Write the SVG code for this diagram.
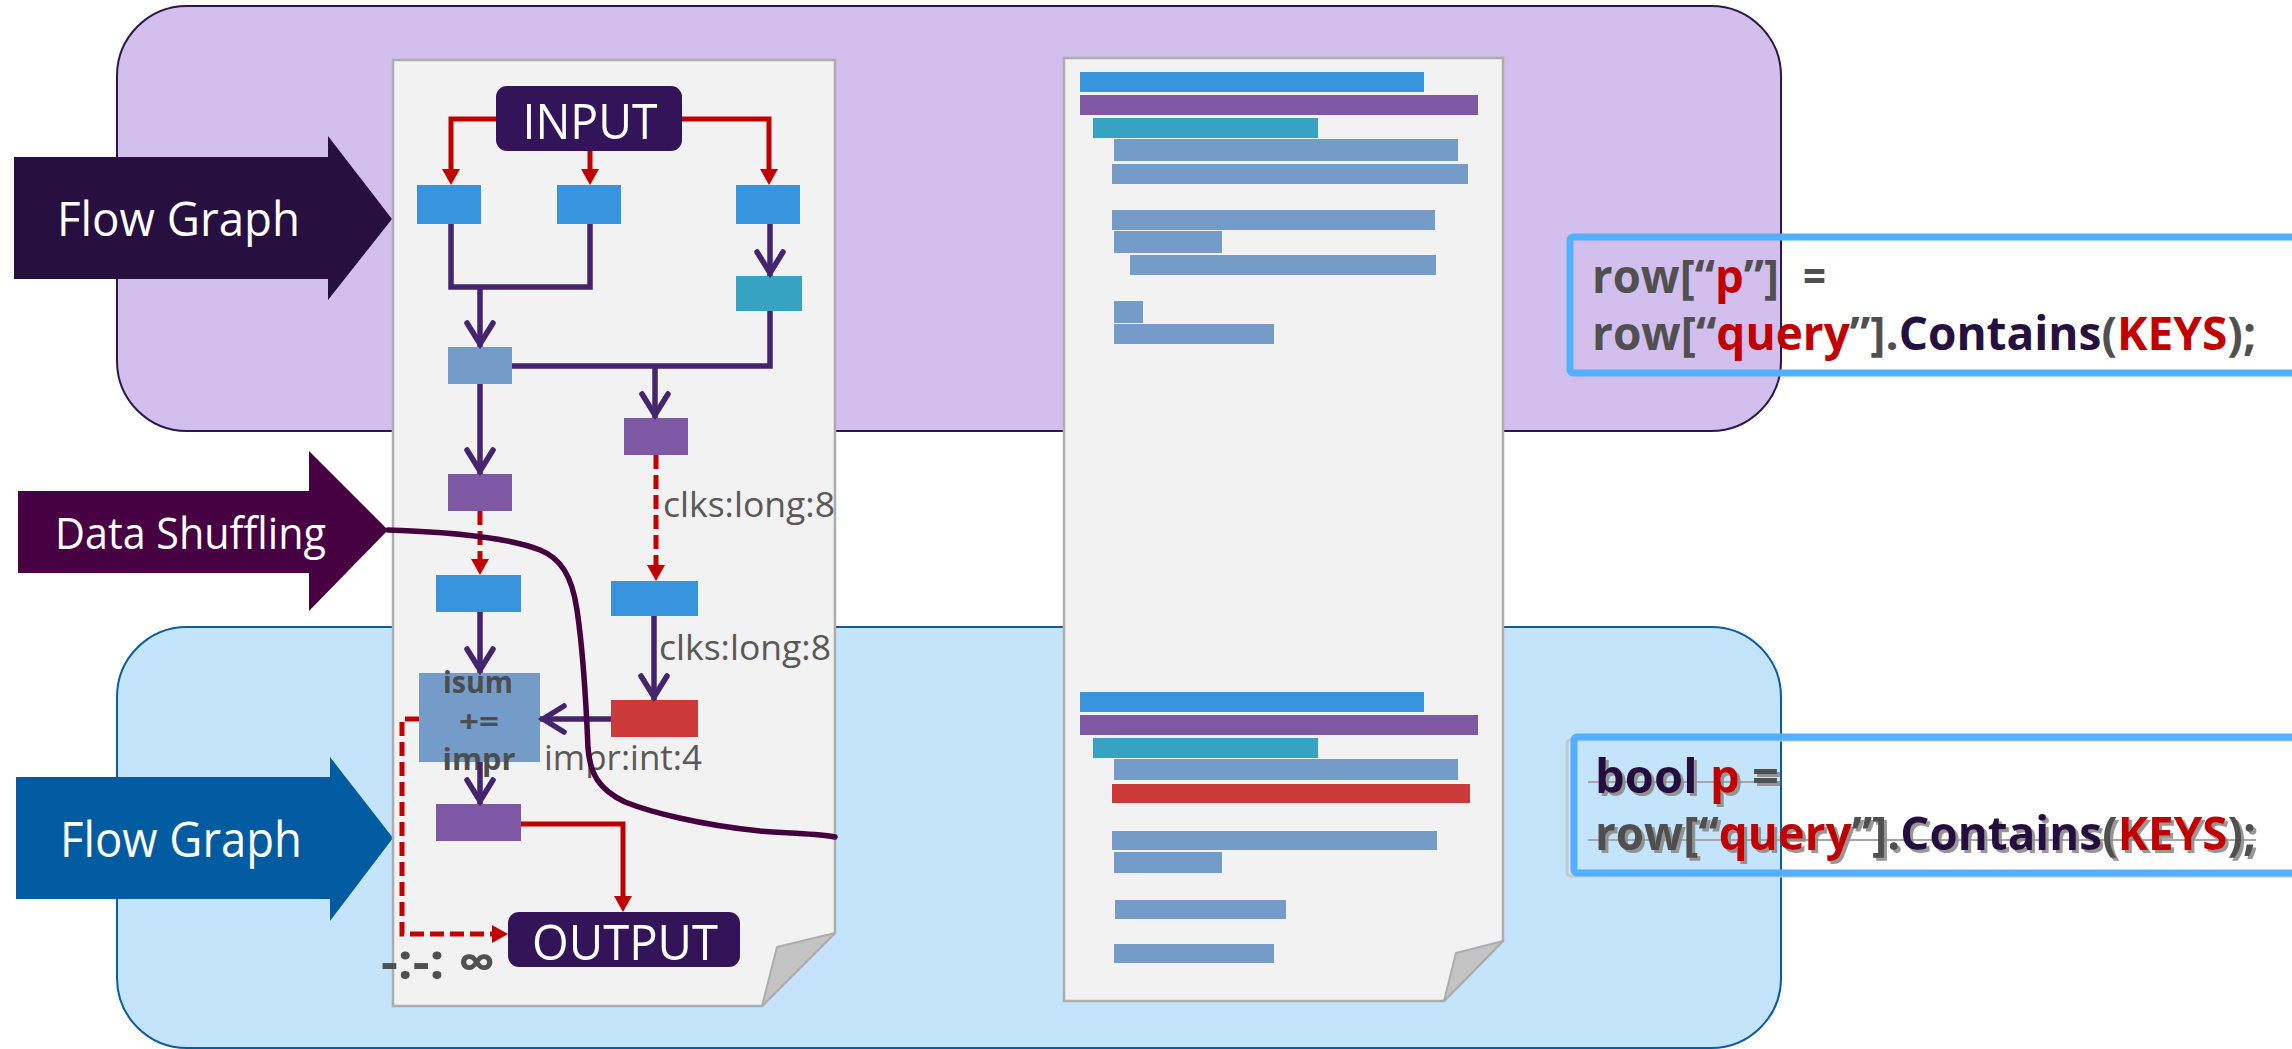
<svg xmlns="http://www.w3.org/2000/svg" width="2292" height="1049" viewBox="0 0 2292 1049">
  <defs>
    <style>
      .sans { font-family: "Open Sans", "Noto Sans", "DejaVu Sans", sans-serif; }
      .arrow-label { font-family: "Open Sans", "Noto Sans", "DejaVu Sans", sans-serif; fill: #FFFFFF; }
      .io-label { font-family: "Open Sans", "Noto Sans", "DejaVu Sans", sans-serif; fill: #FFFFFF; font-size: 50px; text-anchor: middle; }
      .edge-label { font-family: "Open Sans", "Noto Sans", "DejaVu Sans", sans-serif; fill: #595959; font-size: 34px; }
      .op-label { font-family: "Open Sans", "Noto Sans", "DejaVu Sans", sans-serif; fill: #4D4D4D; font-size: 31px; font-weight: 700; text-anchor: middle; }
      .code { font-family: "Open Sans", "Noto Sans", "DejaVu Sans", sans-serif; font-size: 47px; font-weight: 700; }
      .g { fill: #505050; }
      .r { fill: #C00000; }
      .k { fill: #261040; }
      .doc { fill: #F2F2F2; stroke: #ADADAD; stroke-width: 2.5; }
      .fold { fill: #C4C4C4; stroke: #ADADAD; stroke-width: 2; stroke-linejoin: round; }
      .blue { fill: #3894DC; }
      .teal { fill: #37A3C3; }
      .steel { fill: #759BC9; }
      .violet { fill: #7F58A5; }
      .red { fill: #CC3939; }
      .io { fill: #341458; }
      .red-line { fill: none; stroke: #C00000; stroke-width: 5; stroke-linejoin: miter; }
      .red-dash { fill: none; stroke: #C00000; stroke-width: 5; stroke-dasharray: 14 6; }
      .pur-line { fill: none; stroke: #45246F; stroke-width: 5.5; stroke-linejoin: miter; }
      .codebox { fill: none; stroke: #52B0FF; stroke-width: 7; }
    </style>
    <filter id="text-shadow" x="-5%" y="-20%" width="110%" height="140%">
      <feDropShadow dx="3" dy="3" stdDeviation="0.6" flood-color="#8C8C8C" flood-opacity="0.9"/>
    </filter>
    <marker id="tri" markerUnits="userSpaceOnUse" viewBox="-10 -10 20 20" markerWidth="20" markerHeight="20" refX="0" refY="0" orient="auto">
      <path d="M-8,-9 L8,0 L-8,9 Z" fill="#C00000"/>
    </marker>
    <marker id="chev" markerUnits="userSpaceOnUse" viewBox="-30 -18 34 36" markerWidth="34" markerHeight="36" refX="0" refY="0" orient="auto" overflow="visible">
      <path d="M-24,-13 L-3,0 L-24,13" fill="none" stroke="#45246F" stroke-width="5.5" stroke-linecap="round"/>
    </marker>
  </defs>

  <!-- stage panels -->
  <g id="panel-flow-top">
    <rect x="117" y="6" width="1664" height="425" rx="70" ry="70" fill="#D3BFEE" stroke="#2A1848" stroke-width="2"/>
  </g>
  <g id="panel-flow-bottom">
    <rect x="117" y="627" width="1664" height="421" rx="70" ry="70" fill="#C4E4FC" stroke="#0B5CA3" stroke-width="2"/>
  </g>

  <!-- stage arrows -->
  <g id="arrow-flow-top">
    <polygon points="14,157 328,157 328,136 392,219 328,300 328,279 14,279" fill="#27103F"/>
    <text class="arrow-label" x="57" y="236" font-size="48" textLength="243" lengthAdjust="spacingAndGlyphs">Flow Graph</text>
  </g>
  <g id="arrow-shuffle">
    <polygon points="18,491 309,491 309,451 388,530 309,611 309,573 18,573" fill="#470042"/>
    <text class="arrow-label" x="55" y="549" font-size="44" textLength="271" lengthAdjust="spacingAndGlyphs">Data Shuffling</text>
  </g>
  <g id="arrow-flow-bottom">
    <polygon points="16,777 330,777 330,757 393,838 330,921 330,899 16,899" fill="#005BA1"/>
    <text class="arrow-label" x="60" y="857" font-size="49" textLength="242" lengthAdjust="spacingAndGlyphs">Flow Graph</text>
  </g>

  <!-- page holding the flow graph -->
  <g id="doc-graph">
    <path class="doc" d="M393,60 H835 V933 L762,1006 H393 Z"/>
    <polygon class="fold" points="762,1006 777,947 835,933"/>
  </g>

  <!-- page holding the code outline -->
  <g id="doc-code">
    <path class="doc" d="M1064,58 H1503 V941 L1444,1001 H1064 Z"/>
    <polygon class="fold" points="1444,1001 1456,953 1503,941"/>
    <g id="code-lines-top">
      <rect class="blue" x="1080" y="72" width="344" height="20"/>
      <rect class="violet" x="1080" y="95" width="398" height="20"/>
      <rect class="teal" x="1093" y="118" width="225" height="20"/>
      <rect class="steel" x="1114" y="139" width="344" height="22"/>
      <rect class="steel" x="1112" y="164" width="356" height="20"/>
      <rect class="steel" x="1112" y="210" width="323" height="20"/>
      <rect class="steel" x="1114" y="231" width="108" height="22"/>
      <rect class="steel" x="1130" y="255" width="306" height="20"/>
      <rect class="steel" x="1114" y="301" width="29" height="22"/>
      <rect class="steel" x="1114" y="324" width="160" height="20"/>
    </g>
    <g id="code-lines-bottom">
      <rect class="blue" x="1080" y="692" width="344" height="20"/>
      <rect class="violet" x="1080" y="715" width="398" height="20"/>
      <rect class="teal" x="1093" y="738" width="225" height="20"/>
      <rect class="steel" x="1114" y="759" width="344" height="21"/>
      <rect class="red" x="1112" y="784" width="358" height="19"/>
      <rect class="steel" x="1112" y="831" width="325" height="19"/>
      <rect class="steel" x="1114" y="852" width="108" height="21"/>
      <rect class="steel" x="1115" y="900" width="171" height="19"/>
      <rect class="steel" x="1114" y="944" width="160" height="19"/>
    </g>
  </g>

  <!-- flow graph nodes -->
  <g id="node-input">
    <rect class="io" x="496" y="86" width="186" height="65" rx="11"/>
    <text class="io-label" x="590" y="139" textLength="135" lengthAdjust="spacingAndGlyphs">INPUT</text>
  </g>
  <g id="node-a"><rect class="blue" x="417" y="185" width="64" height="39"/></g>
  <g id="node-b"><rect class="blue" x="557" y="185" width="64" height="39"/></g>
  <g id="node-c"><rect class="blue" x="736" y="185" width="64" height="39"/></g>
  <g id="node-t"><rect class="teal" x="736" y="276" width="66" height="35"/></g>
  <g id="node-d"><rect class="steel" x="448" y="347" width="64" height="37"/></g>
  <g id="node-e"><rect class="violet" x="624" y="418" width="64" height="37"/></g>
  <g id="node-f"><rect class="violet" x="448" y="474" width="64" height="37"/></g>
  <g id="node-g"><rect class="blue" x="436" y="575" width="85" height="37"/></g>
  <g id="node-h"><rect class="blue" x="611" y="581" width="87" height="35"/></g>
  <g id="node-i"><rect class="red" x="611" y="700" width="87" height="37"/></g>
  <g id="node-j">
    <rect class="steel" x="419" y="673" width="121" height="89"/>
    <text class="op-label" x="478" y="693" textLength="70" lengthAdjust="spacingAndGlyphs">isum</text>
    <text class="op-label" x="479" y="732" textLength="40" lengthAdjust="spacingAndGlyphs">+=</text>
    <text class="op-label" x="479" y="770" textLength="73" lengthAdjust="spacingAndGlyphs">impr</text>
  </g>
  <g id="node-k"><rect class="violet" x="436" y="804" width="85" height="37"/></g>
  <g id="node-output">
    <rect class="io" x="508" y="912" width="232" height="55" rx="11"/>
    <text class="io-label" x="625" y="960" textLength="186" lengthAdjust="spacingAndGlyphs">OUTPUT</text>
  </g>

  <!-- connectors -->
  <g id="connectors">
    <path class="red-line" d="M496,119 H451 V177" marker-end="url(#tri)"/>
    <path class="red-line" d="M590,151 V177" marker-end="url(#tri)"/>
    <path class="red-line" d="M682,119 H769 V177" marker-end="url(#tri)"/>
    <path class="red-line" d="M521,824 H623 V904" marker-end="url(#tri)"/>
    <path class="red-dash" d="M480,511 V567" marker-end="url(#tri)"/>
    <path class="red-dash" d="M656,455 V573" marker-end="url(#tri)"/>
    <path class="red-dash" d="M419,719 H402 V934 H500" marker-end="url(#tri)"/>

    <path class="pur-line" d="M451,224 V287 H590 V224"/>
    <path class="pur-line" d="M480,287 V347" marker-end="url(#chev)"/>
    <path class="pur-line" d="M770,224 V276" marker-end="url(#chev)"/>
    <path class="pur-line" d="M512,366 H770 V311"/>
    <path class="pur-line" d="M655,366 V418" marker-end="url(#chev)"/>
    <path class="pur-line" d="M480,384 V474" marker-end="url(#chev)"/>
    <path class="pur-line" d="M480,612 V673" marker-end="url(#chev)"/>
    <path class="pur-line" d="M654,616 V700" marker-end="url(#chev)"/>
    <path class="pur-line" d="M611,719 H540" marker-end="url(#chev)"/>
    <path class="pur-line" d="M480,762 V804" marker-end="url(#chev)"/>

    <text class="edge-label" x="663" y="517" textLength="172" lengthAdjust="spacingAndGlyphs">clks:long:8</text>
    <text class="edge-label" x="659" y="660" textLength="172" lengthAdjust="spacingAndGlyphs">clks:long:8</text>
    <text class="edge-label" x="544" y="770" textLength="158" lengthAdjust="spacingAndGlyphs">impr:int:4</text>
    <text class="sans" x="381" y="979" font-size="48" font-weight="700" fill="#505050" textLength="114" lengthAdjust="spacingAndGlyphs">-:-: ∞</text>

    <!-- shuffle boundary -->
    <path d="M388,530 C450,532 510,538 540,550 C560,558 572,575 577,610 C583,650 586,700 588,748 C590,775 600,790 625,802 C650,812 700,825 760,831 C800,834 820,834 835,837" fill="none" stroke="#45003F" stroke-width="5.5" stroke-linecap="round"/>
  </g>

  <!-- code callouts -->
  <g id="code-row">
    <rect class="codebox" x="1570" y="237" width="740" height="136" rx="3"/>
    <text class="code g" x="1592" y="293" textLength="187" lengthAdjust="spacingAndGlyphs">row[“<tspan class="r">p</tspan>”]</text>
    <text class="code g" x="1803" y="293" textLength="23" lengthAdjust="spacingAndGlyphs">=</text>
    <text class="code g" x="1592" y="350" textLength="664" lengthAdjust="spacingAndGlyphs">row[“<tspan class="r">query</tspan>”].<tspan class="k">Contains</tspan>(<tspan class="r">KEYS</tspan>);</text>
  </g>
  <g id="code-bool">
    <rect x="1567" y="740" width="740" height="136" rx="3" fill="none" stroke="#C8C8C8" stroke-width="3"/>
    <rect class="codebox" x="1574" y="737" width="740" height="136" rx="3"/>
    <path d="M1588,782 H1779 M1588,840 H2256" stroke="#A6A6A6" stroke-width="2"/>
    <g filter="url(#text-shadow)">
      <text class="code" x="1595" y="793" textLength="184" lengthAdjust="spacingAndGlyphs"><tspan class="k">bool</tspan> <tspan class="r">p</tspan> <tspan class="g">=</tspan></text>
      <text class="code g" x="1595" y="850" textLength="661" lengthAdjust="spacingAndGlyphs">row[“<tspan class="r">query</tspan>”].<tspan class="k">Contains</tspan>(<tspan class="r">KEYS</tspan>);</text>
    </g>
  </g>
</svg>
